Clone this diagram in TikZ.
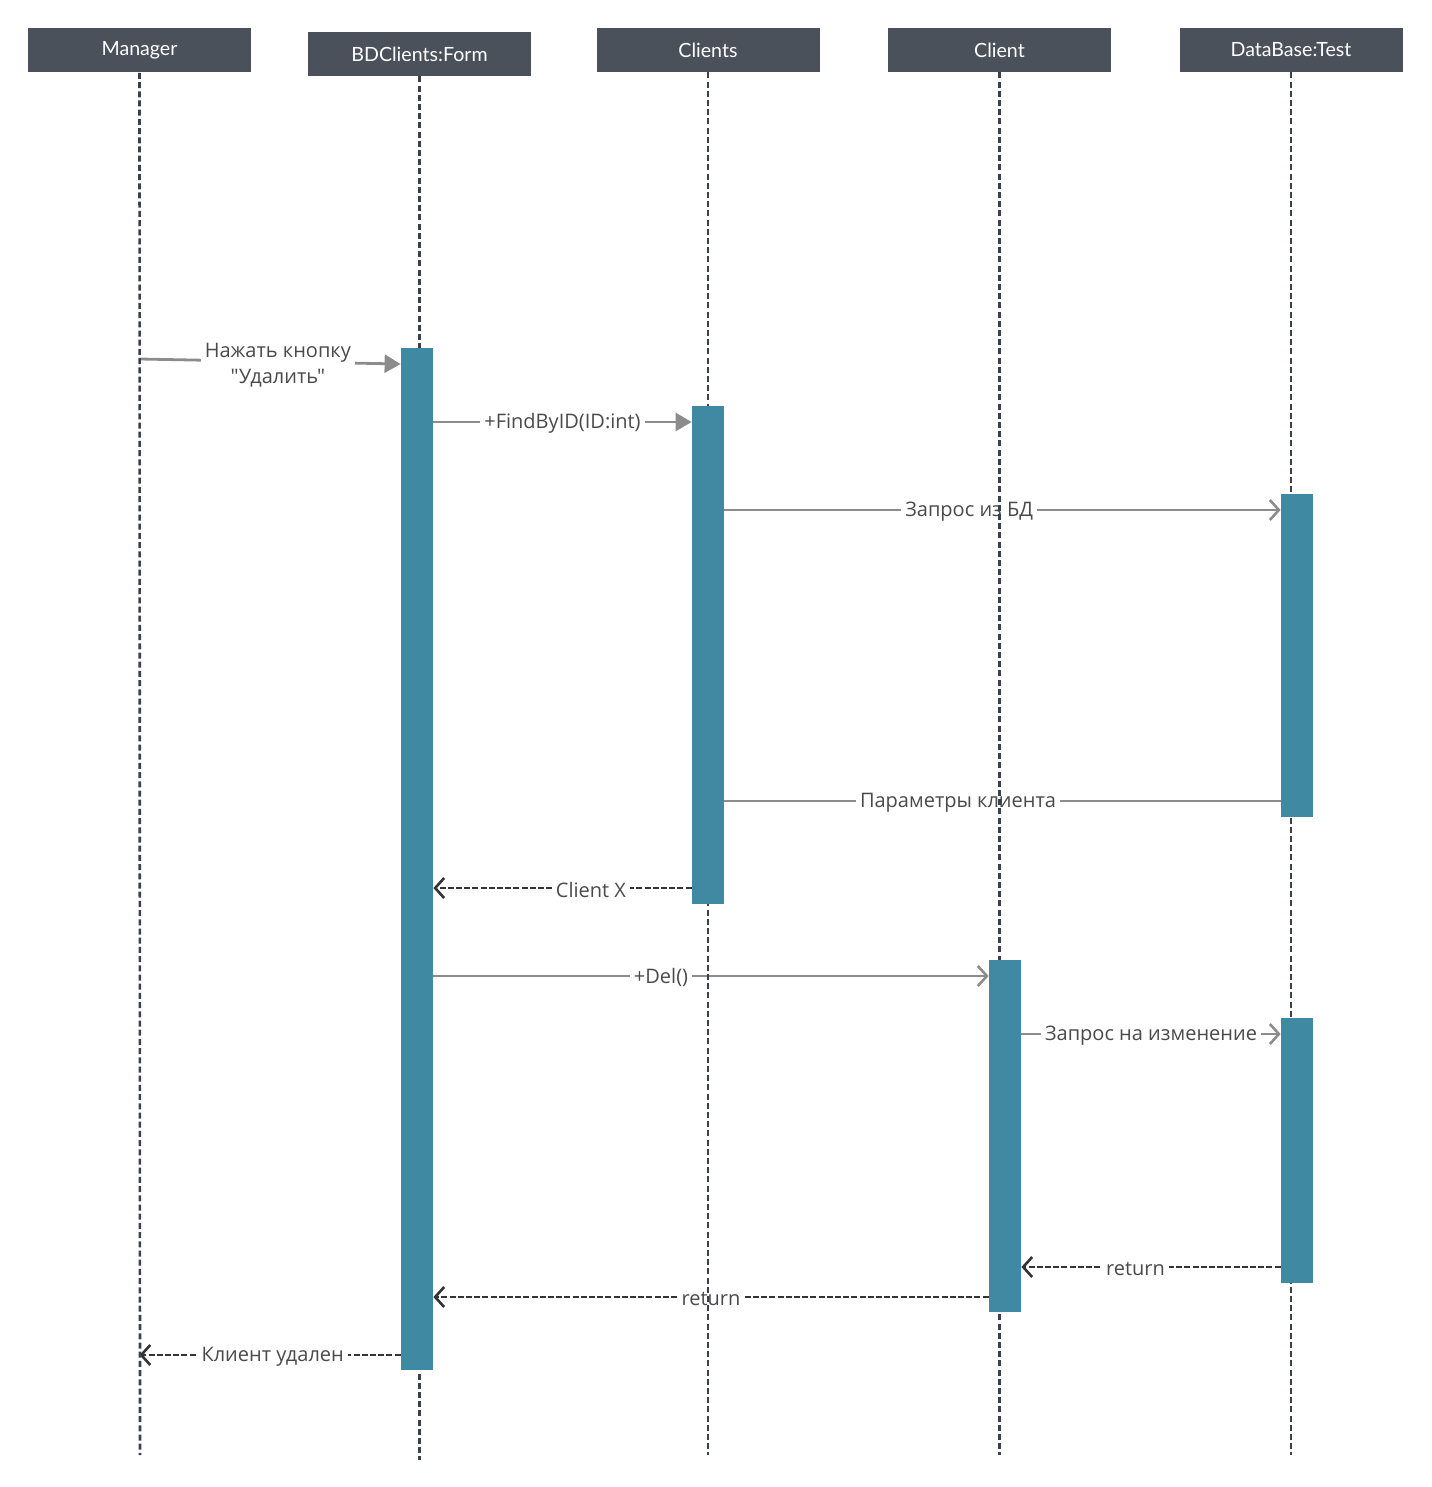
\documentclass[tikz,border=0pt]{standalone}
\usepackage{fontspec}
\setmainfont{Open Sans}[Ligatures=TeXOff]
\newfontfamily\hdrfont{Lato}
\usetikzlibrary{arrows.meta}
\definecolor{hdr}{HTML}{4A515B}
\definecolor{barc}{HTML}{3F8AA2}
\definecolor{life}{HTML}{3A414C}
\definecolor{msg}{HTML}{8C8C8C}
\definecolor{ret}{HTML}{333333}
\definecolor{lbl}{HTML}{4A4A4A}
\pgfdeclarelayer{msgs}
\pgfdeclarelayer{lines}
\pgfsetlayers{msgs,lines,main}
\begin{document}
\begin{tikzpicture}[x=0.5pt,y=-0.5pt,
 hdrbox/.style={fill=hdr, text=white, minimum width=111.5pt, minimum height=22pt, inner sep=0pt, font=\hdrfont\fontsize{9.8}{11}\selectfont},
 actbar/.style={fill=barc, minimum width=16pt, inner sep=0pt},
 lifeline/.style={draw=life, line width=1.3pt, dash pattern=on 3pt off 1.6pt},
 call/.style={draw=msg, line width=1.4pt, -{Triangle[length=8pt,width=9pt]}},
 sync/.style={draw=msg, line width=1.4pt, -{Straight Barb[length=4.5pt,width=10pt,line width=1.3pt]}},
 plain/.style={draw=msg, line width=1.4pt},
 reply/.style={draw=ret, line width=1.2pt, dash pattern=on 3pt off 1.1pt, -{Straight Barb[length=4.5pt,width=10pt,line width=1.3pt]}},
 lab/.style={fill=white, text=lbl, inner sep=2pt, yshift=-0.8pt, font=\fontsize{10}{13}\selectfont}
]
\useasboundingbox (0,0) rectangle (1431,1487);

% headers
\node[hdrbox] (mgr) at (139.5,50.5) {Manager};
\node[hdrbox] (form) at (419.5,54) {BDClients:Form};
\node[hdrbox] (cls) at (708,50) {Clients};
\node[hdrbox] (cl) at (999.5,50) {Client};
\node[hdrbox] (db) at (1291,50) {DataBase:Test};

% lifeline ends
\coordinate (mgrEnd) at (140,1455);
\coordinate (formEnd) at (419.5,1460);
\coordinate (clsEnd) at (708,1455);
\coordinate (clEnd) at (999.5,1455);
\coordinate (dbEnd) at (1291,1455);

% activation bars
\node[actbar, minimum height=511pt] (barForm) at (417,859) {};
\node[actbar, minimum height=249pt] (barCls) at (708,655) {};
\node[actbar, minimum height=161.5pt] (barDb1) at (1297,655.5) {};
\node[actbar, minimum height=176pt] (barCl) at (1005,1136) {};
\node[actbar, minimum height=132.5pt] (barDb2) at (1297,1150.5) {};

\begin{pgfonlayer}{lines}
\draw[lifeline] (mgr.south) -- (mgrEnd);
\draw[lifeline] (form.south) -- (formEnd);
\draw[lifeline] (cls.south) -- (clsEnd);
\draw[lifeline] (cl.south) -- (clEnd);
\draw[lifeline] (db.south) -- (dbEnd);
\end{pgfonlayer}

\begin{pgfonlayer}{msgs}
\draw[call] (mgr.south |- 0,359) -- node[lab, pos=0.53, align=center, yshift=-0.8pt] {Нажать кнопку\\"Удалить"} (barForm.west |- 0,364);
\draw[call] (barForm.east |- 0,422) -- node[lab, pos=0.5] {+FindByID(ID:int)} (barCls.west |- 0,422);
\draw[sync] (barCls.east |- 0,510) -- node[lab, pos=0.44] {Запрос из БД} (barDb1.west |- 0,510);
\draw[plain] (barCls.east |- 0,801) -- node[lab, pos=0.42] {Параметры клиента} (barDb1.west |- 0,801);
\draw[reply] (barCls.west |- 0,888) -- node[lab, pos=0.39] {Client X} (barForm.east |- 0,888);
\draw[sync] (barForm.east |- 0,976) -- node[lab, pos=0.41] {+Del()} (barCl.west |- 0,976);
\draw[sync] (barCl.east |- 0,1034) -- node[lab, pos=0.5] {Запрос на изменение} (barDb2.west |- 0,1034);
\draw[reply] (barDb2.west |- 0,1267) -- node[lab, pos=0.56] {return} (barCl.east |- 0,1267);
\draw[reply] (barCl.west |- 0,1297) -- node[lab, pos=0.5] {return} (barForm.east |- 0,1297);
\draw[reply] (barForm.west |- 0,1355) -- node[lab, pos=0.49] {Клиент удален} (mgr.south |- 0,1355);
\end{pgfonlayer}
\end{tikzpicture}
\end{document}
